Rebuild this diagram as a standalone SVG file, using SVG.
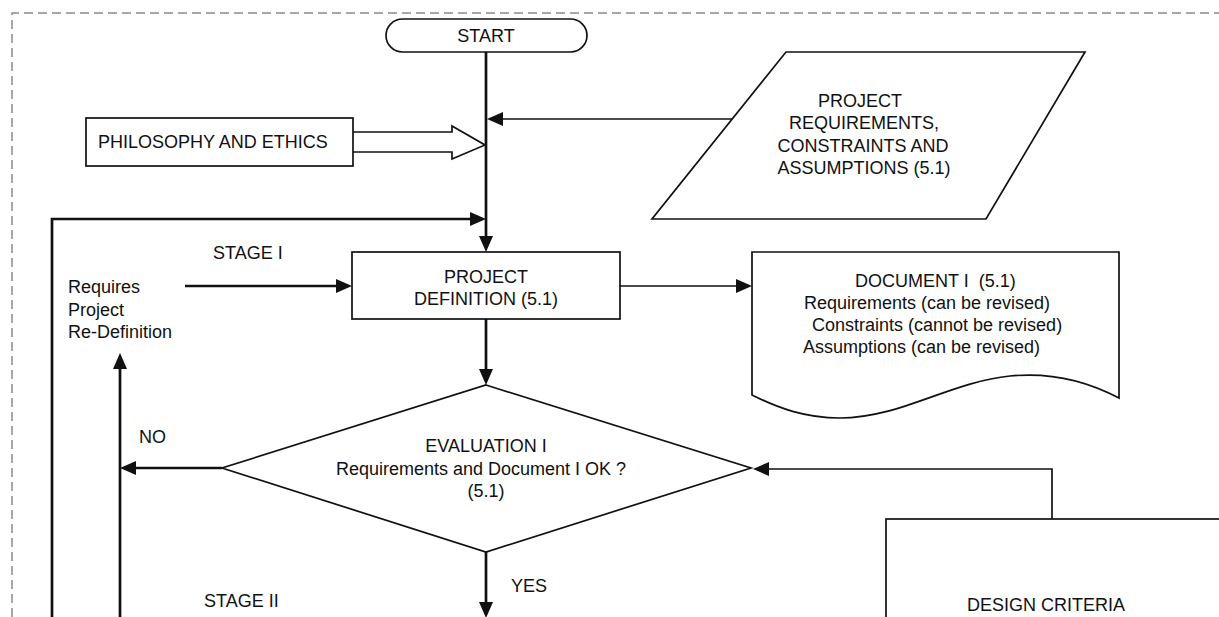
<svg xmlns="http://www.w3.org/2000/svg" width="1219" height="617" viewBox="0 0 1219 617">
  <style>
    .shape { fill: #fff; stroke: #111; stroke-width: 1.7; }
    .thick { fill: none; stroke: #111; stroke-width: 2.7; }
    .thin { fill: none; stroke: #111; stroke-width: 1.7; }
    .frame { fill: none; stroke: #8a8a8a; stroke-width: 1.5; stroke-dasharray: 9 5; }
    text { font-family: "Liberation Sans", Arial, sans-serif; font-size: 18px; fill: #111; }
    .c { text-anchor: middle; }
  </style>
  <defs>
    <marker id="ah" viewBox="0 0 16 14" refX="12" refY="7" markerWidth="16" markerHeight="14" markerUnits="userSpaceOnUse" orient="auto">
      <path d="M0,0 L16,7 L0,14 z" fill="#111"/>
    </marker>
  </defs>

  <rect width="1219" height="617" fill="#fff"/>
  <!-- dashed outer frame -->
  <path class="frame" d="M12,617 V13 H1219"/>

  <!-- connectors -->
  <g id="connectors">
    <path class="thick" d="M486,52 V248" marker-end="url(#ah)"/>
    <path class="thin" d="M733,119 H491" marker-end="url(#ah)"/>
    <path class="thick" d="M52,617 V219 H482" marker-end="url(#ah)"/>
    <path class="thick" d="M185,286 H348" marker-end="url(#ah)"/>
    <path class="thin" d="M620,286 H748" marker-end="url(#ah)"/>
    <path class="thick" d="M486,319 V381" marker-end="url(#ah)"/>
    <path class="thick" d="M222,468 H124" marker-end="url(#ah)"/>
    <path class="thick" d="M120,617 V357" marker-end="url(#ah)"/>
    <path class="thick" d="M486,552 V614" marker-end="url(#ah)"/>
    <path class="thin" d="M1052,519 V469 H757" marker-end="url(#ah)"/>
    <!-- hollow arrow from philosophy box -->
    <path class="shape" d="M353,132 H452 V126 L485,145 L452,159 V152 H353"/>
  </g>

  <g id="start">
    <rect class="shape" x="386" y="19" width="201" height="33" rx="16.5"/>
    <text class="c" x="486" y="42">START</text>
  </g>

  <g id="philosophy">
    <rect class="shape" x="86" y="118" width="267" height="48"/>
    <text x="98" y="148">PHILOSOPHY AND ETHICS</text>
  </g>

  <g id="project-requirements">
    <polygon class="shape" points="786,52 1085,52 986,219 652,219"/>
    <text class="c" x="860" y="107">PROJECT</text>
    <text class="c" x="864" y="129">REQUIREMENTS,</text>
    <text class="c" x="863" y="152">CONSTRAINTS AND</text>
    <text class="c" x="864" y="174">ASSUMPTIONS (5.1)</text>
  </g>

  <g id="labels-left">
    <text x="213" y="259">STAGE I</text>
    <text x="68" y="293">Requires</text>
    <text x="68" y="316">Project</text>
    <text x="68" y="338">Re-Definition</text>
    <text x="139" y="443">NO</text>
    <text x="204" y="607">STAGE II</text>
    <text x="511" y="592">YES</text>
  </g>

  <g id="project-definition">
    <rect class="shape" x="352" y="252" width="268" height="67"/>
    <text class="c" x="486" y="283">PROJECT</text>
    <text class="c" x="486" y="305">DEFINITION (5.1)</text>
  </g>

  <g id="document-1">
    <path class="shape" d="M752,395 V252 H1119 V398 C1085,380 1050,372 1010,376 C950,382 900,418 840,418 C805,418 778,408 752,395 z"/>
    <text x="855" y="287">DOCUMENT I&#160; (5.1)</text>
    <text x="804" y="309">Requirements (can be revised)</text>
    <text x="812" y="331">Constraints (cannot be revised)</text>
    <text x="803" y="353">Assumptions (can be revised)</text>
  </g>

  <g id="evaluation-1">
    <polygon class="shape" points="486,385 751,468 486,552 222,468"/>
    <text class="c" x="486" y="452">EVALUATION I</text>
    <text class="c" x="481" y="475">Requirements and Document I OK ?</text>
    <text class="c" x="486" y="497">(5.1)</text>
  </g>

  <g id="design-criteria">
    <rect class="shape" x="886" y="519" width="340" height="130"/>
    <text class="c" x="1046" y="611">DESIGN CRITERIA</text>
  </g>
</svg>
